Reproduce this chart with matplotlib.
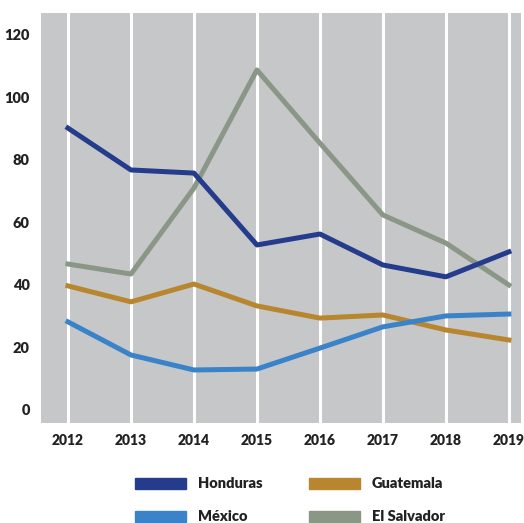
import matplotlib.pyplot as plt
from matplotlib.patches import Patch

plt.rcParams['font.family'] = ['Lato', 'DejaVu Sans']

# --- 数据 ---
years = [2012, 2013, 2014, 2015, 2016, 2017, 2018, 2019]
honduras = [90.2, 76.8, 75.8, 52.8, 56.3, 46.4, 42.6, 50.6]
guatemala = [39.7, 34.6, 40.3, 33.3, 29.4, 30.4, 25.6, 22.4]
mexico = [28.2, 17.6, 12.8, 13.1, 19.8, 26.6, 30.1, 30.7]
el_salvador = [46.7, 43.5, 71.0, 108.8, 85.4, 62.4, 53.4, 40.0]
y_ticks = [0, 20, 40, 60, 80, 100, 120]

c_hon = '#253c8d'
c_gua = '#b8862e'
c_mex = '#3a83c9'
c_sal = '#8a9787'

fig = plt.figure(figsize=(5.24, 5.23), dpi=100)
ax = fig.add_axes([0.078, 0.191, 0.916, 0.784])
ax.set_facecolor('#c6c7c9')

for s in ax.spines.values():
    s.set_visible(False)

ax.set_xticks(years)
ax.grid(axis='x', color='white', lw=2.2)
ax.set_axisbelow(True)

lw = 3.6
ax.plot(years, el_salvador, color=c_sal, lw=lw)
ax.plot(years, guatemala, color=c_gua, lw=lw)
ax.plot(years, mexico, color=c_mex, lw=lw)
ax.plot(years, honduras, color=c_hon, lw=lw)

ax.set_xlim(2011.57, 2019.19)
ax.set_ylim(-4.2, 127)
ax.set_yticks(y_ticks)
ax.tick_params(length=0, labelsize=10.5, colors='#222222', pad=8)
ax.tick_params(axis='x', labelsize=10)
for lab in ax.get_xticklabels() + ax.get_yticklabels():
    lab.set_fontweight('heavy')

# 图例按列排列: 第一列 Honduras / México, 第二列 Guatemala / El Salvador
handles = [Patch(color=c_hon), Patch(color=c_mex), Patch(color=c_gua), Patch(color=c_sal)]
labels = ['Honduras', 'México', 'Guatemala', 'El Salvador']
leg = fig.legend(handles, labels, ncol=2, loc='upper left',
                 bbox_to_anchor=(0.258, 0.087), frameon=False,
                 prop={'size': 10.5, 'weight': 'heavy'},
                 handlelength=3.5, handleheight=0.8, handletextpad=0.8,
                 columnspacing=3.2, labelspacing=1.35, borderpad=0, borderaxespad=0)
for t in leg.get_texts():
    t.set_color('#222222')

fig.savefig('out.png', dpi=100)
